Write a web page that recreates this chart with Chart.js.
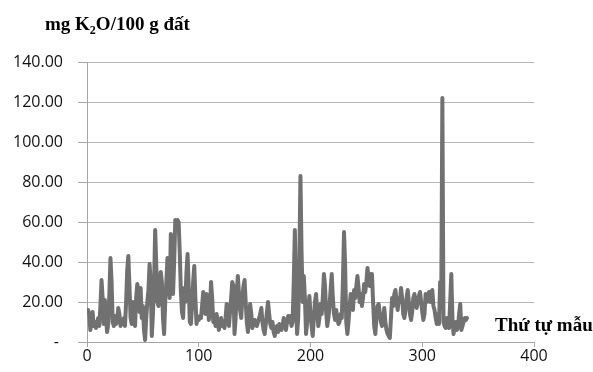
<!DOCTYPE html>
<html>
<head>
<meta charset="utf-8">
<script src="https://cdn.jsdelivr.net/npm/chart.js@4/dist/chart.umd.min.js"></script>
<style>
  html, body { margin: 0; padding: 0; background: #fff; }
  #wrap { width: 593px; height: 372px; position: relative; }
</style>
</head>
<body>
<div id="wrap"><canvas id="kChart" width="593" height="372"></canvas></div>
<script>
// K2O content per sample in order (samples 1..340)
const k2oValues = [
  // 1-20
  16, 14, 6, 12, 15, 8, 10, 7, 9, 12, 8, 18, 31, 22, 9, 21, 12, 5, 9, 24,
  // 21-40
  42, 30, 10, 8, 13, 9, 11, 17, 14, 8, 10, 9, 12, 8, 20, 36, 43, 28, 12, 9,
  // 41-60
  20, 11, 8, 22, 29, 25, 15, 27, 12, 18, 6, 1, 12, 20, 26, 39, 30, 3, 14, 28,
  // 61-80
  56, 38, 20, 18, 28, 35, 30, 12, 4, 20, 30, 42, 36, 22, 54, 50, 24, 40, 61, 57,
  // 81-100
  61, 60, 45, 25, 15, 12, 27, 20, 35, 44, 28, 10, 9, 18, 30, 38, 22, 9, 12, 11,
  // 101-120
  13, 12, 18, 25, 20, 14, 24, 22, 11, 16, 30, 22, 10, 12, 8, 14, 10, 6, 9, 12,
  // 121-140
  8, 10, 7, 12, 19, 14, 8, 15, 22, 30, 28, 4, 12, 25, 33, 24, 16, 12, 22, 28,
  // 141-160
  31, 20, 10, 5, 12, 19, 14, 7, 9, 11, 10, 8, 10, 12, 14, 17, 10, 6, 4, 9,
  // 161-180
  15, 20, 14, 9, 7, 10, 5, 3, 6, 8, 5, 9, 7, 6, 8, 12, 9, 6, 10, 13,
  // 181-200
  10, 13, 8, 10, 30, 56, 20, 4, 12, 40, 83, 45, 20, 33, 22, 4, 10, 16, 23, 14,
  // 201-220
  8, 3, 12, 20, 24, 15, 8, 12, 19, 14, 22, 34, 28, 15, 8, 12, 18, 26, 34, 22,
  // 221-240
  14, 11, 16, 12, 9, 10, 14, 12, 30, 55, 38, 10, 4, 10, 18, 24, 20, 16, 26, 22,
  // 241-260
  28, 33, 27, 20, 24, 18, 22, 29, 25, 30, 37, 32, 28, 34, 34, 20, 8, 4, 12, 18,
  // 261-280
  19, 14, 10, 8, 12, 17, 10, 6, 4, 3, 2, 12, 22, 18, 24, 26, 20, 16, 22, 20,
  // 281-300
  27, 22, 14, 12, 16, 22, 26, 20, 14, 11, 15, 22, 24, 20, 17, 20, 23, 25, 20, 15,
  // 301-320
  11, 14, 24, 20, 22, 25, 20, 24, 26, 18, 16, 12, 9, 14, 9, 30, 20, 122, 10, 8,
  // 321-340
  7, 12, 9, 7, 20, 34, 12, 4, 8, 10, 6, 8, 14, 19, 6, 8, 10, 12, 11, 12
];

const xTicks = [0, 100, 200, 300, 400];
const yTicks = [0, 20, 40, 60, 80, 100, 120, 140];

const yTitleParts = ["mg K", "2", "O/100 g đất"];
const xTitle = "Thứ tự mẫu";

// points: x = sample order, y = value
const points = k2oValues.map((v, i) => ({ x: i + 1, y: v }));

const serif = "'Liberation Serif', 'DejaVu Serif', serif";

// draws the two bold serif axis titles
const axisTitles = {
  id: "axisTitles",
  afterDraw(chart) {
    const ctx = chart.ctx;
    ctx.save();
    ctx.fillStyle = "#000";
    ctx.textBaseline = "alphabetic";
    ctx.textAlign = "left";

    let x = 45;
    const base = 30;
    ctx.font = "bold 19px " + serif;
    ctx.fillText(yTitleParts[0], x, base);
    x += ctx.measureText(yTitleParts[0]).width;
    ctx.font = "bold 12px " + serif;
    ctx.fillText(yTitleParts[1], x, base + 4);
    x += ctx.measureText(yTitleParts[1]).width;
    ctx.font = "bold 19px " + serif;
    ctx.fillText(yTitleParts[2], x, base);

    ctx.fillText(xTitle, 495, 331);
    ctx.restore();
  }
};

const tickFont = { family: "'Open Sans', 'Liberation Sans', sans-serif", size: 16 };

new Chart(document.getElementById("kChart").getContext("2d"), {
  type: "line",
  data: {
    datasets: [{
      data: points,
      borderColor: "#717171",
      borderWidth: 4,
      pointRadius: 0,
      tension: 0,
      borderJoinStyle: "round",
      borderCapStyle: "round",
      fill: false
    }]
  },
  options: {
    responsive: false,
    animation: false,
    layout: { padding: { left: 0, right: 59, top: 62, bottom: 0 } },
    plugins: { legend: { display: false }, tooltip: { enabled: false } },
    scales: {
      x: {
        type: "linear",
        min: xTicks[0],
        max: xTicks[xTicks.length - 1],
        afterBuildTicks: (scale) => { scale.ticks = xTicks.map(v => ({ value: v })); },
        afterFit: (scale) => { scale.height = 30; },
        grid: { drawOnChartArea: false, drawTicks: true, tickLength: 5, color: "#a6a6a6" },
        border: { display: true, color: "#a6a6a6", width: 1 },
        ticks: { color: "#111", font: tickFont, padding: 0, maxRotation: 0 }
      },
      y: {
        min: yTicks[0],
        max: yTicks[yTicks.length - 1],
        afterBuildTicks: (scale) => { scale.ticks = yTicks.map(v => ({ value: v })); },
        afterFit: (scale) => { scale.width = 87; },
        grid: { color: "#b5b5b5", lineWidth: 1, drawTicks: true, tickLength: 9, tickColor: "#a6a6a6" },
        border: { display: true, color: "#a6a6a6", width: 1 },
        ticks: {
          color: "#111",
          font: tickFont,
          padding: 15,
          callback: (v) => (v === 0 ? "- " : v.toFixed(2))
        }
      }
    }
  },
  plugins: [axisTitles]
});
</script>
</body>
</html>
